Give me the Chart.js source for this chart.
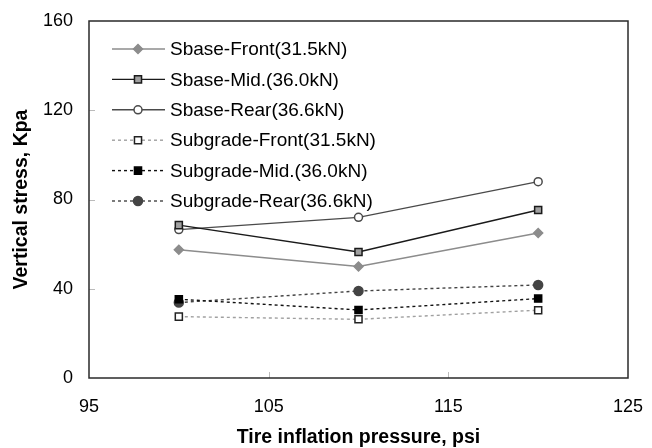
<!DOCTYPE html>
<html>
<head>
<meta charset="utf-8">
<script src="https://cdn.jsdelivr.net/npm/chart.js@4/dist/chart.umd.min.js"></script>
<style>
  html, body { margin: 0; padding: 0; background: #fff; }
  #wrap { width: 652px; height: 448px; position: relative; }
</style>
</head>
<body>
<div id="wrap"><canvas id="chart"></canvas></div>
<script>
// values
const pressures = [100, 110, 120];
const sbaseFront = [57.5, 50, 65];
const sbaseMid = [68.5, 56.5, 75.3];
const sbaseRear = [66.5, 72, 88];
const subgradeFront = [27.5, 26.3, 30.4];
const subgradeMid = [35.3, 30.5, 35.6];
const subgradeRear = [33.8, 39, 41.7];
const seriesNames = [
    'Sbase-Front(31.5kN)', 'Sbase-Mid.(36.0kN)', 'Sbase-Rear(36.6kN)',
    'Subgrade-Front(31.5kN)', 'Subgrade-Mid.(36.0kN)', 'Subgrade-Rear(36.6kN)'
];
const xTicks = [95, 105, 115, 125];
const yTicks = [0, 40, 80, 120, 160];

const FONT = "'Liberation Sans', Arial, sans-serif";

function pts(values) {
    return values.map((v, i) => ({ x: pressures[i], y: v }));
}

function serie(label, values, line, fill, border, style, radius, dashed) {
    return {
        label: label,
        data: pts(values),
        borderColor: line,
        borderWidth: 1.4,
        borderDash: dashed ? [3, 3] : [],
        pointStyle: style,
        pointRadius: radius,
        pointBackgroundColor: fill,
        pointBorderColor: border,
        pointBorderWidth: 1.5,
        fill: false,
        tension: 0
    };
}

// inward tick marks + frame around the plot
const framePlugin = {
    id: 'frame',
    afterDraw(chart) {
        const { ctx, chartArea: a, scales } = chart;
        ctx.save();
        ctx.strokeStyle = '#bbbbbb';
        ctx.lineWidth = 1;
        yTicks.slice(1, -1).forEach(v => {
            const y = Math.round(scales.y.getPixelForValue(v)) + 0.5;
            ctx.beginPath(); ctx.moveTo(a.left, y); ctx.lineTo(a.left + 6, y); ctx.stroke();
        });
        xTicks.slice(1, -1).forEach(v => {
            const x = Math.round(scales.x.getPixelForValue(v)) + 0.5;
            ctx.beginPath(); ctx.moveTo(x, a.bottom); ctx.lineTo(x, a.bottom - 6); ctx.stroke();
        });
        ctx.strokeStyle = '#2a2a2a';
        ctx.lineWidth = 1.5;
        ctx.strokeRect(a.left, a.top, a.right - a.left, a.bottom - a.top);
        ctx.restore();
    }
};

// legend drawn inside the plot, with line + marker samples
const legendPlugin = {
    id: 'insideLegend',
    afterDraw(chart) {
        const ctx = chart.ctx;
        const x0 = 112, x1 = 165, xm = 138, xt = 170;
        let y = 49;
        chart.data.datasets.forEach(ds => {
            ctx.save();
            ctx.strokeStyle = ds.borderColor;
            ctx.lineWidth = ds.borderWidth;
            ctx.setLineDash(ds.borderDash);
            ctx.beginPath(); ctx.moveTo(x0, y); ctx.lineTo(x1, y); ctx.stroke();
            ctx.setLineDash([]);
            ctx.fillStyle = ds.pointBackgroundColor;
            ctx.strokeStyle = ds.pointBorderColor;
            ctx.lineWidth = ds.pointBorderWidth;
            Chart.helpers.drawPoint(ctx, {
                pointStyle: ds.pointStyle, radius: ds.pointRadius, rotation: 0, borderWidth: ds.pointBorderWidth
            }, xm, y);
            ctx.fillStyle = '#000';
            ctx.font = '19px ' + FONT;
            ctx.textBaseline = 'middle';
            ctx.fillText(ds.label, xt, y + 1);
            ctx.restore();
            y += 30.4;
        });
    }
};

const ctx = document.getElementById('chart');
new Chart(ctx, {
    type: 'line',
    data: {
        datasets: [
            serie(seriesNames[0], sbaseFront, '#8c8c8c', '#8c8c8c', '#8c8c8c', 'rectRot', 4.5, false),
            serie(seriesNames[1], sbaseMid, '#1a1a1a', '#a0a0a0', '#1a1a1a', 'rect', 5, false),
            serie(seriesNames[2], sbaseRear, '#4a4a4a', '#ffffff', '#4a4a4a', 'circle', 4, false),
            serie(seriesNames[3], subgradeFront, '#a0a0a0', '#ffffff', '#222222', 'rect', 5, true),
            serie(seriesNames[4], subgradeMid, '#111111', '#000000', '#000000', 'rect', 5, true),
            serie(seriesNames[5], subgradeRear, '#444444', '#444444', '#444444', 'circle', 4.5, true)
        ]
    },
    options: {
        responsive: true,
        maintainAspectRatio: false,
        animation: false,
        layout: { padding: { top: 21, right: 24, left: 0, bottom: 0 }, autoPadding: false },
        plugins: {
            legend: { display: false },
            tooltip: { enabled: false }
        },
        scales: {
            x: {
                type: 'linear',
                min: 95, max: 125,
                afterBuildTicks: s => { s.ticks = xTicks.map(v => ({ value: v })); },
                afterFit: s => { s.height = 70; s.paddingLeft = 0; s.paddingRight = 0; },
                grid: { display: false, drawTicks: false },
                border: { display: false },
                ticks: { color: '#000', padding: 18, font: { family: FONT, size: 18 }, maxRotation: 0 },
                title: {
                    display: true,
                    text: 'Tire inflation pressure, psi',
                    color: '#000',
                    font: { family: FONT, size: 19.5, weight: 'bold', lineHeight: 1 },
                    padding: { top: 0, bottom: 1 }
                }
            },
            y: {
                min: 0, max: 160,
                afterBuildTicks: s => { s.ticks = yTicks.map(v => ({ value: v })); },
                afterFit: s => { s.width = 89; s.paddingTop = 0; s.paddingBottom = 0; },
                grid: { display: false, drawTicks: false },
                border: { display: false },
                ticks: { color: '#000', padding: 16, font: { family: FONT, size: 18 } },
                title: {
                    display: true,
                    text: 'Vertical stress, Kpa',
                    color: '#000',
                    font: { family: FONT, size: 19.5, weight: 'bold', lineHeight: 1 },
                    padding: { top: 12, bottom: 0 }
                }
            }
        }
    },
    plugins: [framePlugin, legendPlugin]
});
</script>
</body>
</html>
